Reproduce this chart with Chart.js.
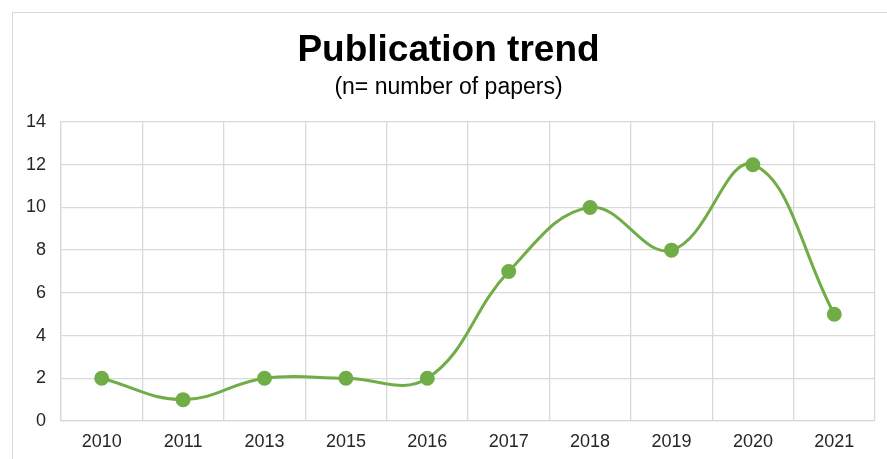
<!DOCTYPE html>
<html>
<head>
<meta charset="utf-8">
<script src="https://cdn.jsdelivr.net/npm/chart.js@4"></script>
<style>
  html, body { margin: 0; padding: 0; background: #fff; }
  #wrap { position: relative; width: 887px; height: 459px; overflow: hidden; }
  #frame { position: absolute; left: 12px; top: 12px; width: 900px; height: 500px; border: 1px solid #d9d9d9; box-sizing: border-box; }
  #cv { position: absolute; left: 0; top: 0; }
</style>
</head>
<body>
<div id="wrap">
  <div id="frame"></div>
  <canvas id="cv" width="887" height="459"></canvas>
</div>
<script>
  var years = ['2010', '2011', '2013', '2015', '2016', '2017', '2018', '2019', '2020', '2021'];
  var papers = [2, 1, 2, 2, 2, 7, 10, 8, 12, 5];
  var yTicks = [0, 2, 4, 6, 8, 10, 12, 14];

  var green = '#70ad47';
  var gridCol = '#d9d9d9';
  var textCol = '#262626';

  new Chart(document.getElementById('cv'), {
    type: 'line',
    data: {
      labels: years,
      datasets: [{
        label: 'Papers',
        data: papers,
        borderColor: green,
        backgroundColor: green,
        borderWidth: 3,
        pointRadius: 6,
        pointBackgroundColor: green,
        pointBorderColor: green,
        tension: 0.4,
        fill: false
      }]
    },
    options: {
      responsive: false,
      animation: false,
      layout: { padding: { left: 22, right: 12, top: 0, bottom: 0 } },
      plugins: {
        legend: { display: false },
        tooltip: { enabled: false },
        title: {
          display: true,
          text: 'Publication trend',
          color: '#000',
          font: { family: '"Liberation Sans Narrow", "Arial Narrow", "Liberation Sans", Arial, sans-serif', size: 37, weight: 'bold' },
          padding: { top: 29, bottom: 0 }
        },
        subtitle: {
          display: true,
          text: '(n= number of papers)',
          color: '#000',
          font: { family: '"Liberation Sans Narrow", "Arial Narrow", "Liberation Sans", Arial, sans-serif', size: 23 },
          padding: { top: 0, bottom: 21 }
        }
      },
      scales: {
        x: {
          offset: true,
          grid: { offset: true, color: gridCol, lineWidth: 1.3, drawTicks: false },
          border: { color: gridCol, width: 1.3 },
          ticks: { color: textCol, font: { family: '"Liberation Sans", Arial, sans-serif', size: 18 }, padding: 10, maxRotation: 0 },
          afterFit: function (s) { s.height = 38; }
        },
        y: {
          min: 0,
          max: 14,
          afterBuildTicks: function (s) { s.ticks = yTicks.map(function (v) { return { value: v }; }); },
          grid: { color: gridCol, lineWidth: 1.3, drawTicks: false },
          border: { color: gridCol, width: 1.3 },
          ticks: { color: textCol, font: { family: '"Liberation Sans", Arial, sans-serif', size: 18 }, padding: 15 },
          afterFit: function (s) { s.width = 39; }
        }
      }
    }
  });
</script>
</body>
</html>
